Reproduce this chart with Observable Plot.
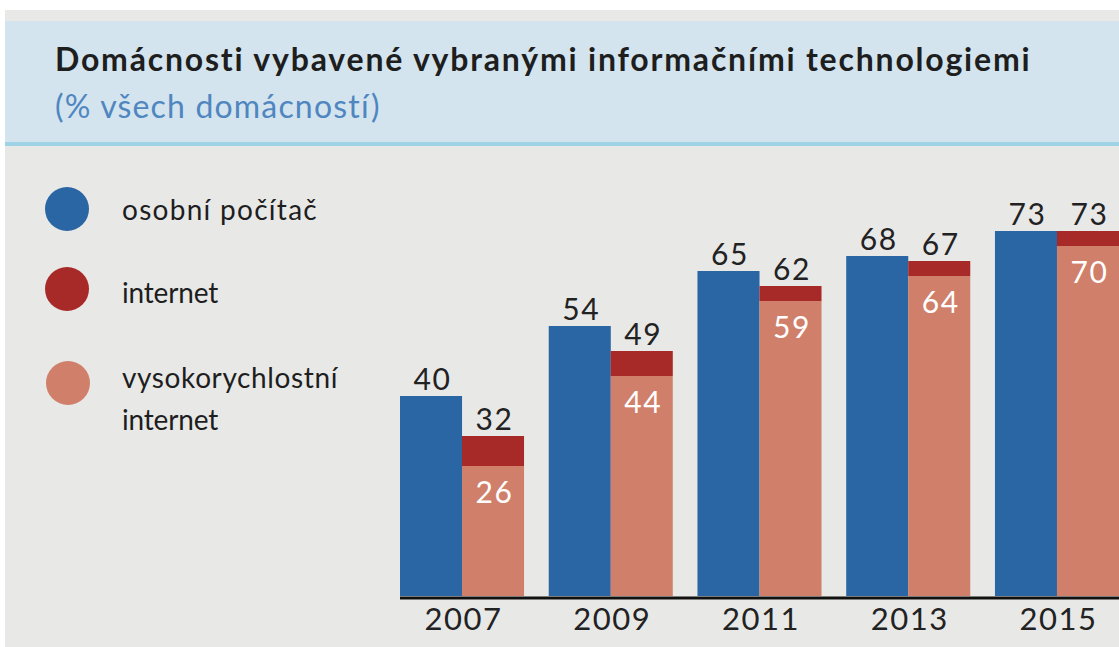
<!DOCTYPE html>
<html>
<head>
<meta charset="utf-8">
<script src="https://cdn.jsdelivr.net/npm/d3@7"></script>
<script src="https://cdn.jsdelivr.net/npm/@observablehq/plot@0.6"></script>
<style>
  html, body { margin: 0; padding: 0; background: #ffffff; width: 1119px; height: 647px; overflow: hidden; font-family: Lato, "Open Sans", sans-serif; }
  #panel { position: absolute; left: 5px; top: 10px; width: 1114px; height: 637px; background: #e8e8e7; }
  #header { position: absolute; left: 5px; top: 21px; width: 1114px; height: 121px; background: #d3e4ee; border-bottom: 4px solid #9dd3e5; }
  .title { position: absolute; left: 55px; top: 44px; font-size: 32px; line-height: 30px; font-weight: 700; color: #1e1e1e; white-space: nowrap; }
  .subtitle { position: absolute; left: 55px; top: 91px; font-size: 32px; line-height: 30px; font-weight: 400; color: #4f86c0; white-space: nowrap; }
  .leg-dot { position: absolute; width: 44px; height: 44px; border-radius: 50%; }
  .leg-text { position: absolute; left: 122px; font-size: 28px; line-height: 42px; color: #1e1e1e; white-space: nowrap; }
  #chart { position: absolute; left: 0; top: 146px; }
</style>
</head>
<body>
<div id="panel"></div>
<div id="header"></div>
<div class="title" id="title">Domácnosti vybavené vybranými informačními technologiemi</div>
<div class="subtitle" id="subtitle">(% všech domácností)</div>
<div id="legend"></div>
<div id="chart"></div>
<script>
// ---- data ----
const years = ["2007", "2009", "2011", "2013", "2015"];
const pocitac = [40, 54, 65, 68, 73];
const internet = [32, 49, 62, 67, 73];
const vysokorychlostni = [26, 44, 59, 64, 70];
const seriesNames = [["osobní počítač"], ["internet"], ["vysokorychlostní", "internet"]];
const seriesColors = ["#2a66a3", "#a82a28", "#d0806a"];

const rows = years.map((y, i) => ({year: y, pc: pocitac[i], net: internet[i], hs: vysokorychlostni[i]}));

// stretch text horizontally (letter-spacing) to match the reference's wider typeface
function fit(el, target) {
  el.style.letterSpacing = "0px";
  const w = el.getBoundingClientRect().width;
  const n = el.textContent.length;
  el.style.letterSpacing = ((target - w) / n) + "px";
}

// ---- legend ----
const legend = document.getElementById("legend");
const legPos = [{cy: 209, ty: 188}, {cy: 289, ty: 271}, {cy: 383, ty: 356}];
const legWidths = [[196], [96], [216, 96]];
seriesNames.forEach((lines, i) => {
  const dot = document.createElement("div");
  dot.className = "leg-dot";
  dot.style.left = (45 + (i === 2 ? 1 : 0)) + "px";
  dot.style.top = (legPos[i].cy - 22) + "px";
  dot.style.background = seriesColors[i];
  legend.appendChild(dot);
  const t = document.createElement("div");
  t.className = "leg-text";
  t.style.top = legPos[i].ty + "px";
  legend.appendChild(t);
  lines.forEach((ln, j) => {
    const s = document.createElement("span");
    s.textContent = ln;
    s.style.display = "inline-block";
    t.appendChild(s);
    if (j < lines.length - 1) t.appendChild(document.createElement("br"));
    fit(s, legWidths[i][j]);
  });
});
fit(document.getElementById("title"), 977);
fit(document.getElementById("subtitle"), 325);

// ---- chart ----
const font = "Lato, 'Open Sans', sans-serif";
const chart = Plot.plot({
  width: 1119,
  height: 501,
  marginLeft: 400,
  marginRight: 0,
  marginTop: 50,
  marginBottom: 51,
  style: {background: "transparent", fontFamily: font, color: "#222", letterSpacing: "1.5px"},
  x: {domain: years, paddingInner: 0.166, paddingOuter: 0, round: false, label: null},
  y: {domain: [0, 80], axis: null},
  marks: [
    Plot.barY(rows, {x: "year", y: "pc", fill: seriesColors[0], insetRight: 62}),
    Plot.barY(rows, {x: "year", y1: "hs", y2: "net", fill: seriesColors[1], insetLeft: 62}),
    Plot.barY(rows, {x: "year", y: "hs", fill: seriesColors[2], insetLeft: 62}),
    Plot.ruleY([0], {stroke: "#111", strokeWidth: 3, dy: 1.5}),
    Plot.text(rows, {x: "year", y: "pc", text: d => String(d.pc), dx: -30, dy: -7, lineAnchor: "bottom", fontSize: 30, fill: "#222"}),
    Plot.text(rows, {x: "year", y: "net", text: d => String(d.net), dx: 32, dy: -7, lineAnchor: "bottom", fontSize: 30, fill: "#222"}),
    Plot.text(rows, {x: "year", y: "hs", text: d => String(d.hs), dx: 32, dy: 15, lineAnchor: "top", fontSize: 30, fill: "#ffffff"}),
    Plot.axisX({tickSize: 0, tickPadding: 11, fontSize: 31, label: null, fill: "#222", dx: 1})
  ]
});
document.getElementById("chart").appendChild(chart);
</script>
</body>
</html>
